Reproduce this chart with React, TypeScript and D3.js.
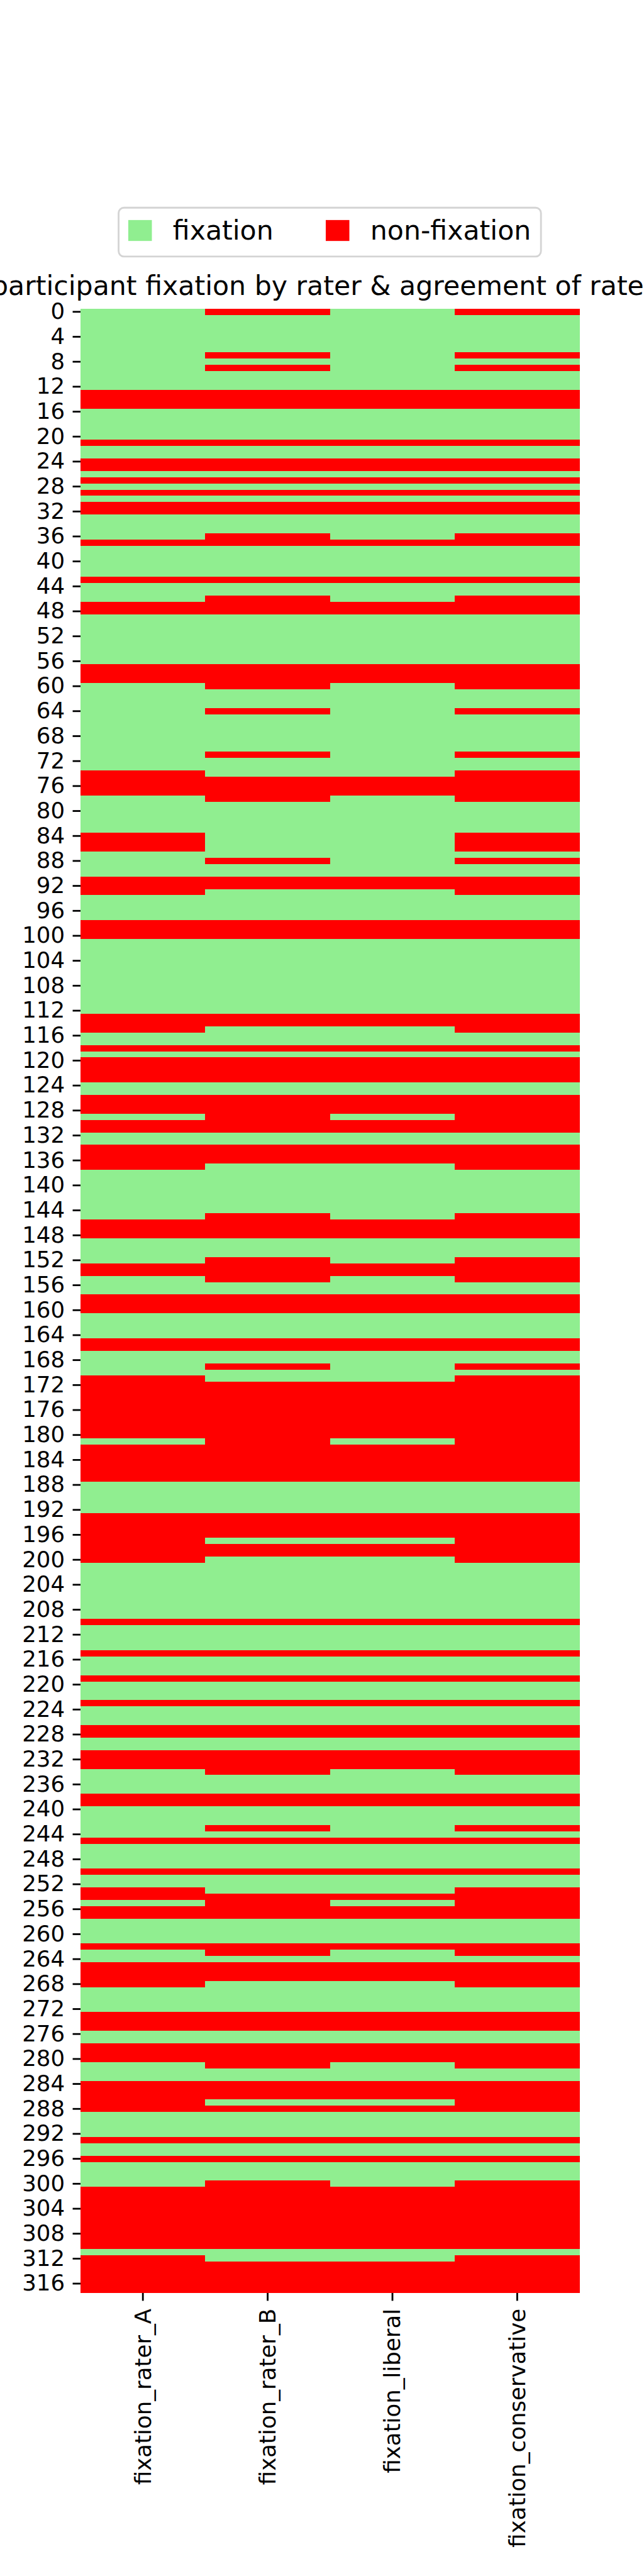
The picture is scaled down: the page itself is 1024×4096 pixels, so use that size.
import React, { useEffect, useRef } from 'react';
import * as d3 from 'd3';

// heatmap columns and rows (participants 0..317)
const columns = ['fixation_rater_A', 'fixation_rater_B', 'fixation_liberal', 'fixation_conservative'];
const participants = d3.range(318);
const yTickValues = d3.range(0, 318, 4);

const legendLabels = ['fixation', 'non-fixation'];
const legendColors = ['#90ee90', '#ff0000'];
const chartTitle = 'participant fixation by rater & agreement of raters';

// participants rated as non-fixation, per column (everything else is fixation)
const nonFixRaterA = [13, 14, 15, 21, 24, 25, 27, 29, 31, 32, 37, 43, 47, 48, 57, 58, 59, 74, 75, 76, 77, 84, 85, 86,
  91, 92, 93, 98, 99, 100, 113, 114, 115, 118, 120, 121, 122, 123, 126, 127, 128, 130, 131, 134, 135, 136, 137,
  146, 147, 148, 153, 154, 158, 159, 160, 165, 166, 171, 172, 173, 174, 175, 176, 177, 178, 179, 180, 182, 183,
  184, 185, 186, 187, 193, 194, 195, 196, 197, 198, 199, 200, 210, 215, 219, 223, 227, 228, 231, 232, 233, 238,
  239, 245, 250, 253, 254, 256, 257, 262, 265, 266, 267, 268, 273, 274, 275, 278, 279, 280, 284, 285, 286, 287,
  288, 293, 296, 301, 302, 303, 304, 305, 306, 307, 308, 309, 310, 312, 313, 314, 315, 316, 317];

const nonFixRaterB = [0, 7, 9, 13, 14, 15, 21, 24, 25, 27, 29, 31, 32, 36, 37, 43, 46, 47, 48, 57, 58, 59, 60, 64, 71,
  75, 76, 77, 78, 88, 91, 92, 98, 99, 100, 113, 114, 118, 120, 121, 122, 123, 126, 127, 128, 129, 130, 131, 134,
  135, 136, 145, 146, 147, 148, 152, 153, 154, 155, 158, 159, 160, 165, 166, 169, 172, 173, 174, 175, 176, 177,
  178, 179, 180, 181, 182, 183, 184, 185, 186, 187, 193, 194, 195, 196, 198, 199, 210, 215, 219, 223, 227, 228,
  231, 232, 233, 234, 238, 239, 243, 245, 250, 254, 255, 256, 257, 262, 263, 265, 266, 267, 273, 274, 275, 278,
  279, 280, 281, 284, 285, 286, 288, 293, 296, 300, 301, 302, 303, 304, 305, 306, 307, 308, 309, 310, 313, 314,
  315, 316, 317];

const nonFixLiberal = [13, 14, 15, 21, 24, 25, 27, 29, 31, 32, 37, 43, 47, 48, 57, 58, 59, 75, 76, 77, 91, 92, 98,
  99, 100, 113, 114, 118, 120, 121, 122, 123, 126, 127, 128, 130, 131, 134, 135, 136, 146, 147, 148, 153, 154,
  158, 159, 160, 165, 166, 172, 173, 174, 175, 176, 177, 178, 179, 180, 182, 183, 184, 185, 186, 187, 193, 194,
  195, 196, 198, 199, 210, 215, 219, 223, 227, 228, 231, 232, 233, 238, 239, 245, 250, 254, 256, 257, 262, 265,
  266, 267, 273, 274, 275, 278, 279, 280, 284, 285, 286, 288, 293, 296, 301, 302, 303, 304, 305, 306, 307, 308,
  309, 310, 313, 314, 315, 316, 317];

const nonFixConservative = [0, 7, 9, 13, 14, 15, 21, 24, 25, 27, 29, 31, 32, 36, 37, 43, 46, 47, 48, 57, 58, 59, 60,
  64, 71, 74, 75, 76, 77, 78, 84, 85, 86, 88, 91, 92, 93, 98, 99, 100, 113, 114, 115, 118, 120, 121, 122, 123,
  126, 127, 128, 129, 130, 131, 134, 135, 136, 137, 145, 146, 147, 148, 152, 153, 154, 155, 158, 159, 160, 165,
  166, 169, 171, 172, 173, 174, 175, 176, 177, 178, 179, 180, 181, 182, 183, 184, 185, 186, 187, 193, 194, 195,
  196, 197, 198, 199, 200, 210, 215, 219, 223, 227, 228, 231, 232, 233, 234, 238, 239, 243, 245, 250, 253, 254,
  255, 256, 257, 262, 263, 265, 266, 267, 268, 273, 274, 275, 278, 279, 280, 281, 284, 285, 286, 287, 288, 293,
  296, 300, 301, 302, 303, 304, 305, 306, 307, 308, 309, 310, 312, 313, 314, 315, 316, 317];

const nonFixByColumn = {
  fixation_rater_A: nonFixRaterA,
  fixation_rater_B: nonFixRaterB,
  fixation_liberal: nonFixLiberal,
  fixation_conservative: nonFixConservative,
};

const FONT = '"DejaVu Sans", sans-serif';

export default function App() {
  const ref = useRef<SVGSVGElement>(null);

  useEffect(() => {
    const svg = d3.select(ref.current);
    svg.selectAll('*').remove();

    // plot area in reference units (viewBox 1200 x 4800)
    const left = 150, right = 1080, top = 575.2, bottom = 4272.6;
    const tick = 14.6;

    const x = d3.scaleBand<string>().domain(columns).range([left, right]);
    const y = d3.scaleBand<number>().domain(participants).range([top, bottom]);

    const cells = columns.flatMap((c) => {
      const s = new Set(nonFixByColumn[c]);
      return participants.map((p) => ({ c, p, fix: !s.has(p) }));
    });

    svg.append('g')
      .selectAll('rect')
      .data(cells)
      .join('rect')
      .attr('x', (d) => x(d.c))
      .attr('y', (d) => y(d.p))
      .attr('width', x.bandwidth())
      .attr('height', y.bandwidth())
      .attr('shape-rendering', 'crispEdges')
      .attr('fill', (d) => (d.fix ? legendColors[0] : legendColors[1]));

    // Y axis
    const yAxis = svg.append('g')
      .attr('transform', `translate(${left},0)`)
      .call(d3.axisLeft(y).tickValues(yTickValues).tickSize(tick).tickPadding(tick));
    yAxis.select('.domain').remove();
    yAxis.attr('font-size', 41.7).attr('font-family', FONT);
    yAxis.selectAll('line').attr('stroke', '#000').attr('stroke-width', 3.3);
    yAxis.selectAll('text').attr('fill', '#000');

    // X axis with rotated labels
    const xAxis = svg.append('g')
      .attr('transform', `translate(0,${bottom})`)
      .call(d3.axisBottom(x).tickSize(tick).tickPadding(tick));
    xAxis.select('.domain').remove();
    xAxis.attr('font-size', 41.7).attr('font-family', FONT);
    xAxis.selectAll('line').attr('stroke', '#000').attr('stroke-width', 3.3);
    xAxis.selectAll('text')
      .attr('fill', '#000')
      .attr('transform', 'rotate(-90)')
      .attr('x', -2 * tick)
      .attr('y', 0)
      .attr('dy', '0.35em')
      .attr('text-anchor', 'end');

    // title
    svg.append('text')
      .attr('x', (left + right) / 2)
      .attr('y', 550)
      .attr('text-anchor', 'middle')
      .attr('font-family', FONT)
      .attr('font-size', 50)
      .text(chartTitle);

    // legend
    const lg = svg.append('g');
    lg.append('rect')
      .attr('x', 221).attr('y', 387)
      .attr('width', 787).attr('height', 91)
      .attr('rx', 10)
      .attr('fill', '#fff')
      .attr('stroke', '#d4d4d4')
      .attr('stroke-width', 3.3);
    const legendX = [239, 607];
    legendLabels.forEach((label, i) => {
      lg.append('rect')
        .attr('x', legendX[i]).attr('y', 410)
        .attr('width', 44).attr('height', 39)
        .attr('fill', legendColors[i]);
      lg.append('text')
        .attr('x', legendX[i] + 83)
        .attr('y', 447)
        .attr('font-family', FONT)
        .attr('font-size', 50)
        .text(label);
    });
  }, []);

  return (
    <svg
      ref={ref}
      width={1024}
      height={4096}
      viewBox="0 0 1200 4800"
      style={{ position: 'absolute', left: 0, top: 0, background: '#fff' }}
    />
  );
}
